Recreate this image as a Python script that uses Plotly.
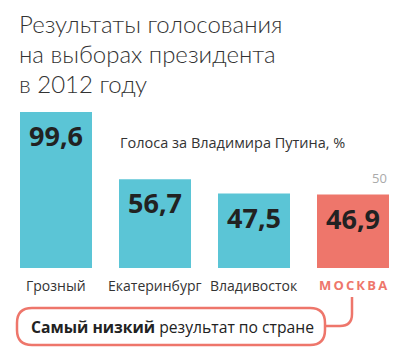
import plotly.graph_objects as go

# ---- data ----
cities = ["Грозный", "Екатеринбург", "Владивосток", "МОСКВА"]
votes = [99.6, 56.7, 47.5, 46.9]
value_labels = ["99,6", "56,7", "47,5", "46,9"]
highlight = [False, False, False, True]
ref_value = 50
ref_label = "50"
title_lines = ["Результаты голосования", "на выборах президента", "в 2012 году"]
subtitle = "Голоса за Владимира Путина, %"
callout_bold = "Самый низкий"
callout_rest = " результат по стране"

# ---- styles ----
W, H = 411, 360
TEAL = "#5bc5d6"
SALMON = "#ee766b"
DARK = "#222222"
FONT = "Open Sans"
TITLE_FONT = "Lato"

def fx(px):
    return px / W

def fy(py):
    return 1 - py / H

# axis mapping: category step 99px, first centre at 56px; value 0 at 268px, 1.566 px/unit
step = 99.0
x0px = 56.0
base_px = 268.0
ppu = 1.566
xr = [-x0px / step, (W - x0px) / step]
yr = [-(H - base_px) / ppu, base_px / ppu]

colors = [SALMON if h else TEAL for h in highlight]

fig = go.Figure()
fig.add_trace(go.Bar(
    x=list(range(len(cities))), y=votes, width=72 / step,
    marker=dict(color=colors, line=dict(width=0)),
    hoverinfo="skip",
))

annotations = []
# value labels inside bars
for i, (v, lab) in enumerate(zip(votes, value_labels)):
    annotations.append(dict(
        x=i, y=v, xref="x", yref="y", text=lab, showarrow=False,
        yanchor="top", yshift=-3,
        font=dict(family=FONT, size=27, color=DARK, weight=700),
    ))
# category labels
for i, (c, h) in enumerate(zip(cities, highlight)):
    if h:
        txt = "<b>" + "\u2009".join(c) + "</b>"
        col = SALMON
        size = 13
    else:
        txt = c
        col = "#333333"
        size = 14
    annotations.append(dict(
        x=i, y=0, xref="x", yref="y", text=txt, showarrow=False,
        yanchor="middle", yshift=-17,
        font=dict(family=FONT, size=size, color=col),
    ))
# reference "50" label
annotations.append(dict(
    x=3 + 36 / step, y=ref_value, xref="x", yref="y", text=ref_label,
    showarrow=False, xanchor="right", yanchor="bottom", yshift=1,
    font=dict(family=FONT, size=13, color="#aaaaaa"),
))
# title
for k, line in enumerate(title_lines):
    annotations.append(dict(
        x=fx(17), y=fy(23 + 30 * k), xref="paper", yref="paper", text=line,
        showarrow=False, xanchor="left", yanchor="middle",
        font=dict(family=TITLE_FONT, size=24, color="#333333", weight=300),
    ))
# subtitle
annotations.append(dict(
    x=fx(118), y=fy(143), xref="paper", yref="paper", text=subtitle,
    showarrow=False, xanchor="left", yanchor="middle",
    font=dict(family=FONT, size=14.5, color="#333333"),
))
# callout text
annotations.append(dict(
    x=fx(172), y=fy(327), xref="paper", yref="paper",
    text="<b>" + callout_bold + "</b>" + callout_rest,
    showarrow=False, xanchor="center", yanchor="middle",
    font=dict(family=FONT, size=15.7, color=DARK),
))

# callout box (rounded rectangle) and connector
bx1, bx2, by1, by2, r = 17, 325, 308, 345, 15
def P(px, py):
    return f"{fx(px):.5f},{fy(py):.5f}"
box_path = (
    f"M {P(bx1 + r, by1)} L {P(bx2 - r, by1)} Q {P(bx2, by1)} {P(bx2, by1 + r)} "
    f"L {P(bx2, by2 - r)} Q {P(bx2, by2)} {P(bx2 - r, by2)} "
    f"L {P(bx1 + r, by2)} Q {P(bx1, by2)} {P(bx1, by2 - r)} "
    f"L {P(bx1, by1 + r)} Q {P(bx1, by1)} {P(bx1 + r, by1)} Z"
)
conn_path = (
    f"M {P(352, 297)} L {P(352, 314)} Q {P(352, 326)} {P(340, 326)} L {P(bx2, 326)}"
)
shapes = [
    dict(type="path", xref="paper", yref="paper", path=box_path,
         line=dict(color=SALMON, width=2.5), fillcolor="rgba(0,0,0,0)"),
    dict(type="path", xref="paper", yref="paper", path=conn_path,
         line=dict(color=SALMON, width=2.5)),
]

fig.update_layout(
    width=W, height=H,
    margin=dict(l=0, r=0, t=0, b=0),
    paper_bgcolor="white", plot_bgcolor="white",
    showlegend=False,
    xaxis=dict(range=xr, visible=False, fixedrange=True),
    yaxis=dict(range=yr, visible=False, fixedrange=True),
    annotations=annotations,
    shapes=shapes,
)

fig.write_html(
    "out.html",
    config={"displayModeBar": False},
    post_script="document.body.style.margin='0';document.body.style.overflow='hidden';",
)
